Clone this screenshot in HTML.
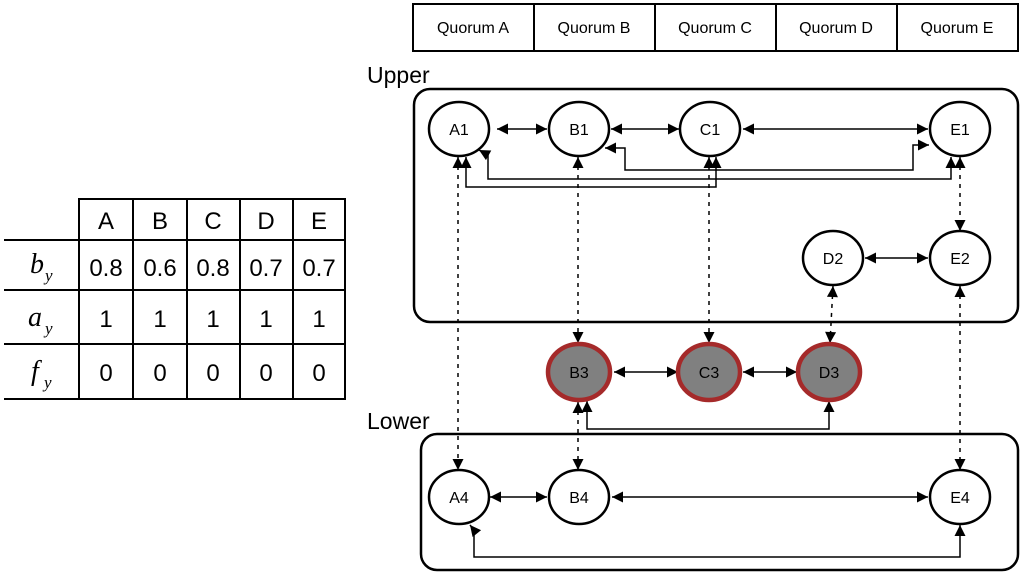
<!DOCTYPE html>
<html><head><meta charset="utf-8"><style>
html,body{margin:0;padding:0;background:#fff;width:1024px;height:577px;overflow:hidden}
svg{display:block}
text{font-family:"Liberation Sans",sans-serif;fill:#000}
</style></head><body>
<svg width="1024" height="577" viewBox="0 0 1024 577" xmlns="http://www.w3.org/2000/svg">
<defs>
<marker id="ah" viewBox="0 0 10 10" refX="10" refY="5" markerWidth="12" markerHeight="11" markerUnits="userSpaceOnUse" orient="auto-start-reverse">
<path d="M0,0 L10,5 L0,10 z" fill="#000"/></marker>
</defs>
<!-- table -->
<g stroke="#000" stroke-width="2" fill="none">
<rect x="79" y="199" width="266" height="200"/>
<line x1="4" y1="240" x2="345" y2="240"/>
<line x1="4" y1="290" x2="345" y2="290"/>
<line x1="4" y1="344" x2="345" y2="344"/>
<line x1="4" y1="399" x2="79" y2="399"/>
<line x1="133" y1="199" x2="133" y2="399"/>
<line x1="187" y1="199" x2="187" y2="399"/>
<line x1="240" y1="199" x2="240" y2="399"/>
<line x1="293" y1="199" x2="293" y2="399"/>
</g>
<g font-size="24" text-anchor="middle">
<text x="106" y="229">A</text><text x="160" y="229">B</text><text x="213" y="229">C</text><text x="266" y="229">D</text><text x="319" y="229">E</text>
<text x="106" y="276">0.8</text><text x="160" y="276">0.6</text><text x="213" y="276">0.8</text><text x="266" y="276">0.7</text><text x="319" y="276">0.7</text>
<text x="106" y="327">1</text><text x="160" y="327">1</text><text x="213" y="327">1</text><text x="266" y="327">1</text><text x="319" y="327">1</text>
<text x="106" y="381">0</text><text x="160" y="381">0</text><text x="213" y="381">0</text><text x="266" y="381">0</text><text x="319" y="381">0</text>
</g>
<g font-style="italic">
<text x="30" y="273" font-size="28" style="font-family:'Liberation Serif',serif">b</text><text x="45" y="281" font-size="17" style="font-family:'Liberation Serif',serif">y</text>
<text x="28" y="326" font-size="28" style="font-family:'Liberation Serif',serif">a</text><text x="45" y="334" font-size="17" style="font-family:'Liberation Serif',serif">y</text>
<text x="31" y="380" font-size="28" style="font-family:'Liberation Serif',serif">f</text><text x="44" y="388" font-size="17" style="font-family:'Liberation Serif',serif">y</text>
</g>
<!-- quorum header -->
<g stroke="#000" stroke-width="2" fill="none">
<rect x="413" y="4" width="605" height="47"/>
<line x1="534" y1="4" x2="534" y2="51"/><line x1="655" y1="4" x2="655" y2="51"/>
<line x1="776" y1="4" x2="776" y2="51"/><line x1="897" y1="4" x2="897" y2="51"/>
</g>
<g font-size="16" text-anchor="middle">
<text x="473" y="33">Quorum A</text><text x="594" y="33">Quorum B</text><text x="715" y="33">Quorum C</text><text x="836" y="33">Quorum D</text><text x="957" y="33">Quorum E</text>
</g>
<text x="367" y="83" font-size="23">Upper</text>
<text x="367" y="429" font-size="23">Lower</text>
<rect x="414" y="89" width="604" height="233" rx="16" fill="none" stroke="#000" stroke-width="2.5"/>
<rect x="421" y="434" width="597" height="136" rx="16" fill="none" stroke="#000" stroke-width="2.5"/>
<!-- dashed -->
<g stroke="#000" stroke-width="1.5" stroke-dasharray="4,5" fill="none" marker-start="url(#ah)" marker-end="url(#ah)">
<line x1="458" y1="157" x2="458" y2="470"/>
<line x1="578" y1="157" x2="578" y2="343"/>
<line x1="709" y1="157" x2="709" y2="343"/>
<line x1="960" y1="157" x2="960" y2="231"/>
<line x1="833" y1="286" x2="830" y2="343"/>
<line x1="960" y1="286" x2="960" y2="470"/>
<line x1="578" y1="402" x2="578" y2="470"/>
</g>
<!-- solid connectors -->
<g stroke="#000" stroke-width="1.5" fill="none" marker-start="url(#ah)" marker-end="url(#ah)">
<line x1="497" y1="129" x2="547" y2="129"/>
<line x1="611" y1="129" x2="679" y2="129"/>
<line x1="743" y1="129" x2="928" y2="129"/>
<polyline points="605,148 625,148 625,170 913,170 913,145 929,145"/>
<polyline points="479,150 488,155 488,179 951,179 951,157"/>
<polyline points="466,157 466,187 716,187 716,157"/>
<line x1="865" y1="258" x2="928" y2="258"/>
<line x1="614" y1="372" x2="678" y2="372"/>
<line x1="743" y1="372" x2="797" y2="372"/>
<polyline points="587,401 587,429 829,429 829,401"/>
<line x1="490" y1="497" x2="547" y2="497"/>
<line x1="612" y1="497" x2="928" y2="497"/>
<polyline points="470,525 474,530 474,557 960,557 960,525"/>
</g>
<!-- nodes -->
<g stroke="#000" stroke-width="2.5" fill="#fff">
<ellipse cx="459" cy="129" rx="30" ry="27"/>
<ellipse cx="579" cy="129" rx="30" ry="27"/>
<ellipse cx="710" cy="129" rx="30" ry="27"/>
<ellipse cx="960" cy="129" rx="30" ry="27"/>
<ellipse cx="833" cy="258" rx="30" ry="27"/>
<ellipse cx="960" cy="258" rx="30" ry="27"/>
<ellipse cx="459" cy="497" rx="30" ry="27"/>
<ellipse cx="579" cy="497" rx="30" ry="27"/>
<ellipse cx="960" cy="497" rx="30" ry="27"/>
</g>
<g stroke="#a52a2a" stroke-width="4.5" fill="#808080">
<ellipse cx="579" cy="372" rx="31" ry="28"/>
<ellipse cx="709" cy="372" rx="31" ry="28"/>
<ellipse cx="829" cy="372" rx="31" ry="28"/>
</g>
<g font-size="16" text-anchor="middle">
<text x="459" y="135">A1</text><text x="579" y="135">B1</text><text x="710" y="135">C1</text><text x="960" y="135">E1</text>
<text x="833" y="264">D2</text><text x="960" y="264">E2</text>
<text x="579" y="378">B3</text><text x="709" y="378">C3</text><text x="829" y="378">D3</text>
<text x="459" y="503">A4</text><text x="579" y="503">B4</text><text x="960" y="503">E4</text>
</g>
</svg>
</body></html>
